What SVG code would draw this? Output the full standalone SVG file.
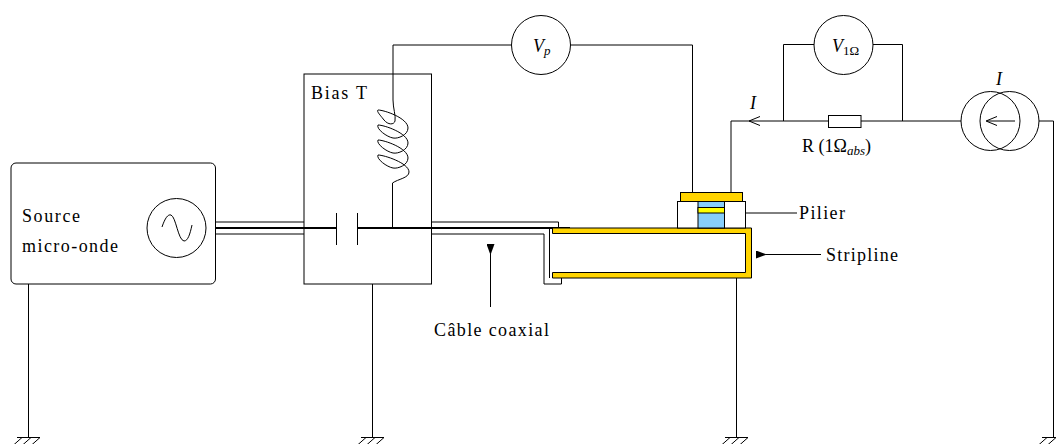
<svg xmlns="http://www.w3.org/2000/svg" width="1056" height="444" viewBox="0 0 1056 444">
<style>
.w{fill:none;stroke:#000;stroke-width:1}
.n{fill:#fff;stroke:#000;stroke-width:1}
.k{fill:none;stroke:#000;stroke-width:2}
.g{fill:#ffd400;stroke:#000;stroke-width:1}
text{font-family:"Liberation Serif","Times New Roman",serif;font-size:18px;fill:#000}
.i{font-style:italic}
.s{font-size:13px}
</style>
<defs>
<marker id="ah" markerWidth="11" markerHeight="8" refX="1" refY="4" orient="auto-start-reverse" markerUnits="userSpaceOnUse"><path d="M11,0L0,4L11,8Z" fill="#000"/></marker>
<g id="gnd"><path class="w" d="M-11,0H12M12,0L3,8M3,0L-6,8M-6,0L-15,8"/></g>
</defs>
<g id="connectors">
<path class="w" d="M28.5,284V438M372.5,284V438M736.5,278V438M1039,121H1053.5V438"/>
<use href="#gnd" x="28" y="437.5"/><use href="#gnd" x="372" y="437.5"/><use href="#gnd" x="736" y="437.5"/><use href="#gnd" x="1053" y="437.5"/>
<path class="w" d="M215,222H304M215,234H304"/>
<path class="k" d="M205,228H337M357,228H570"/>
<path class="w" d="M431,222H558.5V228M431,234H544V284H561.5V278M549.5,228V278"/>
<path class="w" d="M393,100V45H511M571,45H692.5V192M731,192V121H961"/>
<path class="w" d="M783.5,121V44.5H814M873,44.5H902.5V121"/>
<path class="w" d="M760,116.500L749,121L760,125.500"/>
<path class="w" d="M797,213H740" marker-end="url(#ah)"/>
<path class="w" d="M821,254.500H766" marker-end="url(#ah)"/>
<path class="w" d="M490.500,307V254" marker-end="url(#ah)"/>
</g>
<g id="source"><rect class="n" x="11" y="163" width="204.500" height="121" rx="5"/>
<circle class="w" cx="176.500" cy="228" r="29.500"/>
<path class="w" d="M162,227C165,218 168,214 171,215C176,217 178,240 184,241C188,241 190,234 192,225"/>
<text x="22" y="222" textLength="58">Source</text>
<text x="22" y="252" textLength="96">micro-onde</text></g>
<g id="biasT"><rect x="304" y="74" width="127.500" height="210" class="w"/>
<path class="w" d="M393,100C393,108 396,116 395,121C394,125 388,125 384,120C381,116 376,111 378,110C384,110 408,118 408,128C408,135 398,139 393,138C387,137 376,129 378,125C384,125 408,133 408,143C408,150 398,154 393,153C387,152 376,144 378,140C384,140 408,148 408,158C408,165 398,169 393,168C387,167 376,159 378,155C384,155 409,163 409,172C409,178 398,179 392.500,183V228"/>
<path class="w" d="M336.500,213V245M357.500,213V245"/>
<text x="311" y="99" textLength="56">Bias T</text></g>
<g id="stripline"><path class="g" d="M552.500,228H751.500V278H552.500V272.500H745.500V233.500H552.500Z"/>
<text x="826" y="261" textLength="72">Stripline</text></g>
<g id="pilier"><rect class="n" x="677.500" y="201.500" width="68" height="26.500"/>
<rect x="680.500" y="192.500" width="62" height="9" class="g"/>
<rect x="698" y="201.500" width="26.500" height="26.500" fill="#87cefa" stroke="#000"/>
<rect x="698" y="207.500" width="26.500" height="5.500" fill="#ff0" stroke="#000"/>
<text x="799" y="219" textLength="46">Pilier</text></g>
<g id="cable"><text x="434" y="336" textLength="115">Câble coaxial</text></g>
<g id="vp"><circle class="n" cx="541" cy="45" r="29.500"/><text class="i" x="533" y="52" font-size="19">V<tspan class="s" dy="3">p</tspan></text></g>
<g id="v1"><circle class="n" cx="843.500" cy="45" r="29.500"/><text class="i" x="832" y="52">V<tspan class="s" dy="3" font-style="normal">1Ω</tspan></text></g>
<g id="resistor"><rect class="n" x="828.500" y="115.500" width="32.500" height="12"/>
<text x="802" y="152">R (1Ω<tspan class="s i" dy="3">abs</tspan><tspan dy="-3">)</tspan></text></g>
<g id="currentSource"><circle class="w" cx="990.500" cy="121" r="29.500"/><circle class="w" cx="1009.500" cy="121" r="29.500"/>
<path class="w" d="M1015,121H987M997,116.500L986,121L997,125.500"/></g>
<text class="i" x="750" y="109" font-size="19">I</text>
<text class="i" x="996" y="85" font-size="19">I</text>
</svg>
